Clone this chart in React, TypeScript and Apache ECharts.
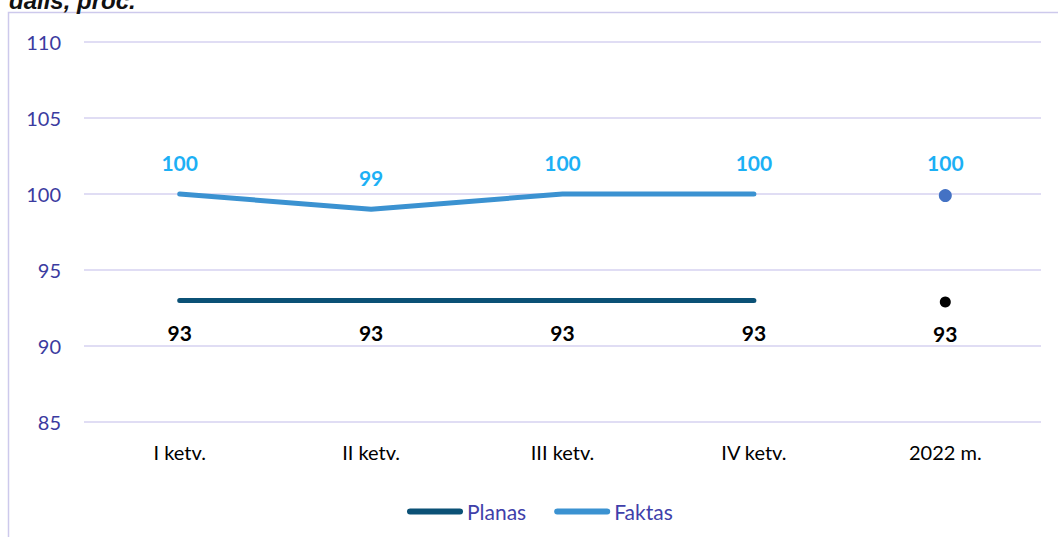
import React, { useEffect, useRef } from "react";
import * as echarts from "echarts";

const categories = ["I ketv.", "II ketv.", "III ketv.", "IV ketv.", "2022 m."];
const planasQuarters: (number | string)[] = [93, 93, 93, 93, "-"];
const faktasQuarters: (number | string)[] = [100, 99, 100, 100, "-"];
const planasYear: (number | string)[] = ["-", "-", "-", "-", 92.9];
const faktasYear: (number | string)[] = ["-", "-", "-", "-", 99.9];
const yMin = 85;
const yMax = 110;
const yStep = 5;

const FONT = "Lato, 'Noto Sans', sans-serif";
const PLAN_COLOR = "#0B5176";
const FACT_COLOR = "#3B92D1";
const FACT_LABEL = "#1CB0F5";
const AXIS_TEXT = "#3B3BA0";
const GRID_COLOR = "#D6D2F0";

const fmt = (p: any) => String(Math.round(Number(p.value)));

export default function App() {
  const ref = useRef<HTMLDivElement>(null);
  useEffect(() => {
    if (!ref.current) return;
    const chart = echarts.init(ref.current, null, { renderer: "svg" });
    const labelTop = {
      show: true,
      position: "top",
      distance: 21,
      color: FACT_LABEL,
      fontWeight: "bold",
      fontSize: 21,
      fontFamily: FONT,
      opacity: 1,
      formatter: fmt,
    };
    const labelBottom = {
      show: true,
      position: "bottom",
      distance: 22,
      color: "#000",
      fontWeight: "bold",
      fontSize: 21,
      fontFamily: FONT,
      opacity: 1,
      formatter: fmt,
    };
    chart.setOption({
      animation: false,
      backgroundColor: "#fff",
      grid: { left: 84, right: 17, top: 42, bottom: 115, containLabel: false },
      graphic: [
        {
          type: "rect",
          shape: { x: 8.5, y: 12.5, width: 1200, height: 700 },
          style: { fill: "none", stroke: "#CDC9EC", lineWidth: 1.5 },
          silent: true,
        },
        {
          type: "text",
          x: 9,
          y: 12,
          style: {
            text: "dalis, proc.",
            fill: "#111",
            font: "italic bold 24px 'Liberation Sans', Arial, sans-serif",
            verticalAlign: "bottom",
            align: "left",
          },
        },
      ],
      legend: {
        data: ["Planas", "Faktas"],
        top: 496,
        left: 402,
        itemWidth: 56,
        itemHeight: 6,
        itemGap: 28,
        icon: "path://M3,0 L53,0 A3,3 0 0 1 53,6 L3,6 A3,3 0 0 1 3,0 Z",
        textStyle: { color: "#3F3FAA", fontSize: 21, fontFamily: FONT, padding: [0, 0, 0, -1] },
      },
      xAxis: {
        type: "category",
        data: categories,
        boundaryGap: true,
        axisLine: { show: false },
        axisTick: { show: false },
        axisLabel: { color: "#000", fontSize: 20, fontFamily: FONT, margin: 20 },
      },
      yAxis: {
        type: "value",
        min: yMin,
        max: yMax,
        interval: yStep,
        axisLine: { show: false },
        axisTick: { show: false },
        axisLabel: { color: AXIS_TEXT, fontSize: 20, fontFamily: FONT, margin: 23 },
        splitLine: { lineStyle: { color: GRID_COLOR, width: 1.5 } },
      },
      series: [
        {
          name: "Planas",
          type: "line",
          data: planasQuarters,
          symbol: "circle",
          symbolSize: 0.1,
          itemStyle: { color: PLAN_COLOR },
          lineStyle: { color: PLAN_COLOR, width: 5, cap: "round" },
          label: labelBottom,
          z: 3,
        },
        {
          name: "Faktas",
          type: "line",
          data: faktasQuarters,
          symbol: "circle",
          symbolSize: 0.1,
          itemStyle: { color: FACT_COLOR },
          lineStyle: { color: FACT_COLOR, width: 5, cap: "round", join: "round" },
          label: labelTop,
          z: 3,
        },
        {
          name: "Planas 2022",
          type: "scatter",
          data: planasYear,
          symbol: "circle",
          symbolSize: 11,
          itemStyle: { color: "#000", opacity: 1 },
          label: { ...labelBottom, distance: 16 },
          z: 4,
        },
        {
          name: "Faktas 2022",
          type: "scatter",
          data: faktasYear,
          symbol: "circle",
          symbolSize: 13,
          itemStyle: { color: "#4472C4", opacity: 1 },
          label: { ...labelTop, distance: 16 },
          z: 4,
        },
      ],
    });
    return () => chart.dispose();
  }, []);
  return (
    <div
      ref={ref}
      style={{ position: "absolute", left: 0, top: 0, width: 1058, height: 537 }}
    />
  );
}
